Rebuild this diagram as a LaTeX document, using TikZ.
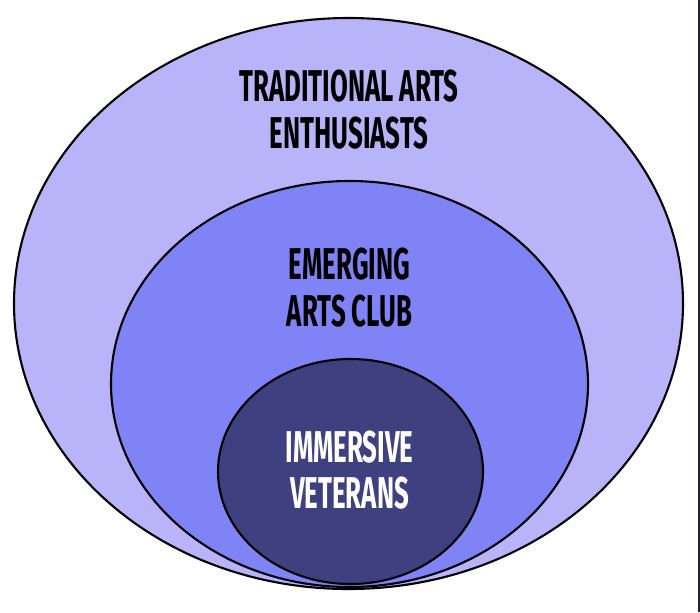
\documentclass[tikz,border=0pt]{standalone}
\usepackage{fontspec}
\newfontfamily\ringfont[FakeStretch=0.58]{Fira Sans}
\usetikzlibrary{positioning}
\definecolor{outerfill}{HTML}{B9B3FA}
\definecolor{middlefill}{HTML}{7F83F5}
\definecolor{innerfill}{HTML}{3F407F}
\definecolor{edgebar}{HTML}{221E40}

\begin{document}
\begin{tikzpicture}[x=0.03cm, y=-0.03cm,
    ring/.style={draw=black, line width=1.8pt},
    ringlabel/.style={align=center, font=\ringfont\bfseries\fontsize{38}{39.7}\selectfont}]
    \useasboundingbox (0,0) rectangle (700,612);
    \fill[edgebar] (697.5,0) rectangle (700,612);
    % nested rings
    \draw[ring, fill=outerfill] (348.5,303.5) ellipse [x radius=334.5, y radius=285.5];
    \draw[ring, fill=middlefill] (349.5,384) ellipse [x radius=238.5, y radius=203];
    \draw[ring, fill=innerfill] (350.5,471.5) ellipse [x radius=132.5, y radius=112.5];
    % labels
    \node (trad) [ringlabel] at (349,109.5) {TRADITIONAL ARTS\\ENTHUSIASTS};
    \node (emerg) [ringlabel] at (349.5,287.5) {EMERGING\\ARTS CLUB};
    \node (immer) [ringlabel, text=white] at (349.5,470) {IMMERSIVE\\VETERANS};
\end{tikzpicture}
\end{document}
